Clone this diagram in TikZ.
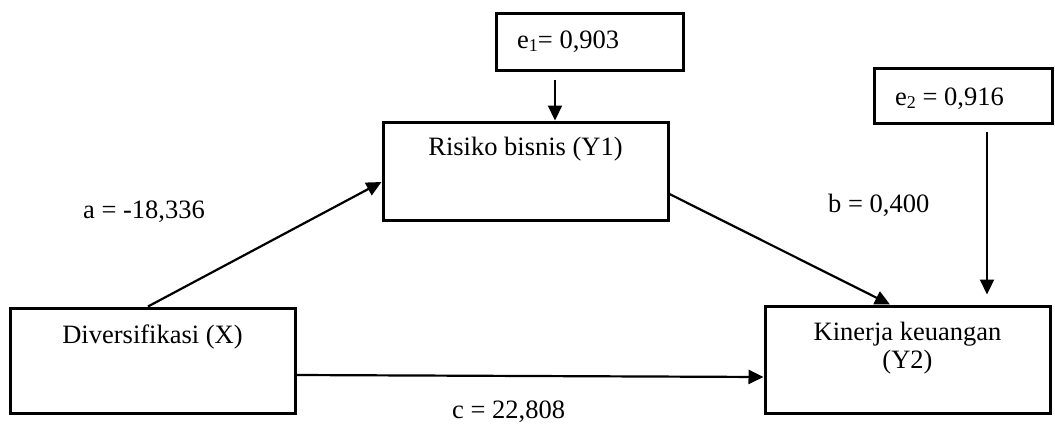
\documentclass[tikz,border=0pt]{standalone}
\usepackage{fontspec}
\setmainfont{Liberation Serif}
\usetikzlibrary{arrows.meta}
\newcommand{\sbs}[1]{\raisebox{-3.5pt}{\fontsize{18}{18}\selectfont #1}}
\tikzset{
  box/.style={draw, line width=3pt, inner sep=0pt, minimum width=#1},
  txt/.style={font=\fontsize{26.5}{30}\selectfont, inner sep=0pt},
  conn/.style={line width=2.2pt, -{Triangle[length=15pt,width=14pt]}},
  every label/.style={txt}
}
\begin{document}
\begin{tikzpicture}[x=1pt,y=-1pt]
\useasboundingbox (0,0) rectangle (1055,426);
% boxes
\node[box=187pt, minimum height=57pt] (e1) at (589.5,41.5)
  {};
\node[txt, anchor=base west] (e1t) at (517,48) {e\sbs{1}= 0,903};
\node[box=285pt, minimum height=98pt,
  label={[name=y1t, anchor=base, yshift=-35pt]north:Risiko bisnis (Y1)}] (y1) at (525.5,171) {};
\node[box=178pt, minimum height=55pt] (e2) at (963,95.5) {};
\node[txt, anchor=base west] (e2t) at (895,105) {e\sbs{2} = 0,916};
\node[box=285pt, minimum height=105pt,
  label={[name=xt, anchor=base, yshift=-37pt]north:Diversifikasi (X)}] (x) at (152.5,360.5) {};
\node[box=285pt, minimum height=107pt,
  label={[name=y2t, anchor=base, yshift=-36pt]north:Kinerja keuangan},
  label={[name=y2u, anchor=base, yshift=-64pt]north:(Y2)}] (y2) at (907.5,359.5) {};
% connectors
\draw[conn, shorten <=8pt] ([xshift=-34.5pt]e1.south) -- ([xshift=29.5pt]y1.north);
\draw[conn, shorten <=7pt, shorten >=10pt] ([xshift=24pt]e2.south) -- ([xshift=79.5pt]y2.north);
\draw[conn] ([xshift=-4.5pt]x.north) -- ([yshift=-11pt]y1.west);
\draw[conn] ([yshift=-23pt]y1.east) -- ([xshift=-17.5pt]y2.north);
\draw[conn] ([yshift=-14.5pt]x.east) -- ([yshift=-17.5pt]y2.west);
% path labels
\node[txt, anchor=base west] (la) at (83,218) {a = -18,336};
\node[txt, anchor=base west] (lb) at (828,212) {b = 0,400};
\node[txt, anchor=base west] (lc) at (452,418) {c = 22,808};
\end{tikzpicture}
\end{document}
